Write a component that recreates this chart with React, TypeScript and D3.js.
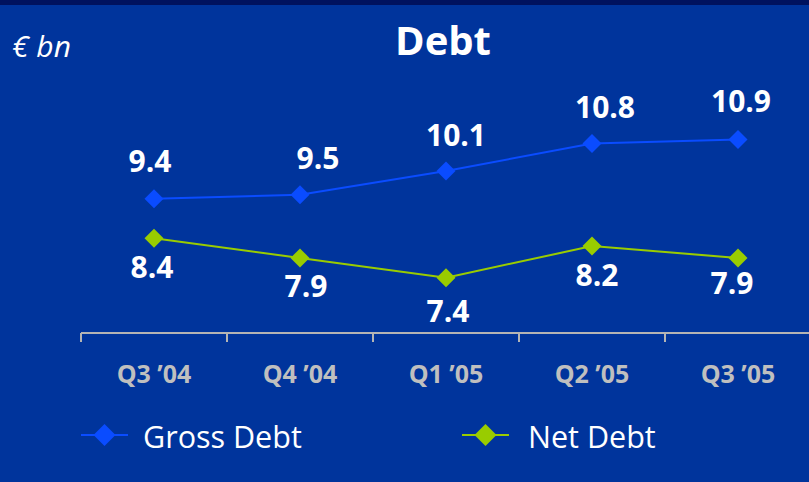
import React from "react";
import * as d3 from "d3";

const categories = ["Q3 \u201904", "Q4 \u201904", "Q1 \u201905", "Q2 \u201905", "Q3 \u201905"];
const grossDebt = [9.4, 9.5, 10.1, 10.8, 10.9];
const netDebt = [8.4, 7.9, 7.4, 8.2, 7.9];
const seriesNames = ["Gross Debt", "Net Debt"];

// label nudges (dx, dy from the point), as placed in the original slide
const grossLabelDx = [-4, 18, 10, 13, 3];
const grossLabelDy = [-27, -26, -25, -25, -27];
const netLabelDx = [-2, 6, 2, 5, -6];
const netLabelDy = [40, 39, 44, 40, 36];

const W = 809;
const H = 482;
const BG = "#00349c";
const GROSS = "#0a4cff";
const NET = "#99cc00";
const FONT = "'Open Sans', 'Noto Sans', sans-serif";

export default function App() {
  const x = d3.scaleBand<string>().domain(categories).range([81, 81 + 146 * 5]);
  const y = d3.scaleLinear().domain([6, 12]).range([333, 96]);
  const cx = (c: string) => (x(c) as number) + x.bandwidth() / 2;
  const line = d3
    .line<number>()
    .x((_, i) => cx(categories[i]))
    .y((d) => y(d));
  const diamond = (px: number, py: number, r: number) =>
    `M${px},${py - r}L${px + r},${py}L${px},${py + r}L${px - r},${py}Z`;
  const ticks = d3.range(categories.length).map((i) => x(categories[i]) as number);

  return (
    <svg
      width={W}
      height={H}
      style={{ position: "absolute", left: 0, top: 0, display: "block" }}
    >
      <rect x={0} y={0} width={W} height={H} fill={BG} />
      <rect x={0} y={0} width={W} height={5} fill="#00125e" />
      <text x={12} y={57} fill="#fff" fontFamily={FONT} fontStyle="italic" fontSize={30}>
        € bn
      </text>
      <text
        x={443}
        y={55}
        fill="#fff"
        fontFamily={FONT}
        fontWeight="bold"
        fontSize={40}
        textAnchor="middle"
      >
        Debt
      </text>

      {/* axis */}
      <line x1={81} x2={W} y1={333} y2={333} stroke="#b4b4b4" strokeWidth={2} />
      {ticks.map((t, i) => (
        <line key={i} x1={t} x2={t} y1={333} y2={342} stroke="#b4b4b4" strokeWidth={2} />
      ))}
      {categories.map((c) => (
        <text
          key={c}
          x={cx(c)}
          y={383}
          fill="#bfbfbf"
          fontFamily={FONT}
          fontWeight="bold"
          fontSize={25}
          textAnchor="middle"
        >
          {c}
        </text>
      ))}

      {/* lines */}
      <path d={line(grossDebt) as string} fill="none" stroke={GROSS} strokeWidth={2} />
      <path d={line(netDebt) as string} fill="none" stroke={NET} strokeWidth={2} />
      {grossDebt.map((v, i) => (
        <g key={"g" + i}>
          <path d={diamond(cx(categories[i]), y(v), 9.5)} fill={GROSS} />
          <text
            x={cx(categories[i]) + grossLabelDx[i]}
            y={y(v) + grossLabelDy[i]}
            fill="#fff"
            fontFamily={FONT}
            fontWeight="bold"
            fontSize={30}
            textAnchor="middle"
          >
            {v.toFixed(1)}
          </text>
        </g>
      ))}
      {netDebt.map((v, i) => (
        <g key={"n" + i}>
          <path d={diamond(cx(categories[i]), y(v), 9.5)} fill={NET} />
          <text
            x={cx(categories[i]) + netLabelDx[i]}
            y={y(v) + netLabelDy[i]}
            fill="#fff"
            fontFamily={FONT}
            fontWeight="bold"
            fontSize={30}
            textAnchor="middle"
          >
            {v.toFixed(1)}
          </text>
        </g>
      ))}

      {/* legend */}
      {[0, 1].map((k) => {
        const lx = k === 0 ? 81 : 462;
        const col = k === 0 ? GROSS : NET;
        return (
          <g key={"l" + k}>
            <line x1={lx} x2={lx + 47} y1={435} y2={435} stroke={col} strokeWidth={2} />
            <path d={diamond(lx + 23.5, 435, 11)} fill={col} />
            <text
              x={lx + (k === 0 ? 62 : 66)}
              y={448}
              fill="#fff"
              fontFamily={FONT}
              fontSize={30.5}
            >
              {seriesNames[k]}
            </text>
          </g>
        );
      })}
    </svg>
  );
}
